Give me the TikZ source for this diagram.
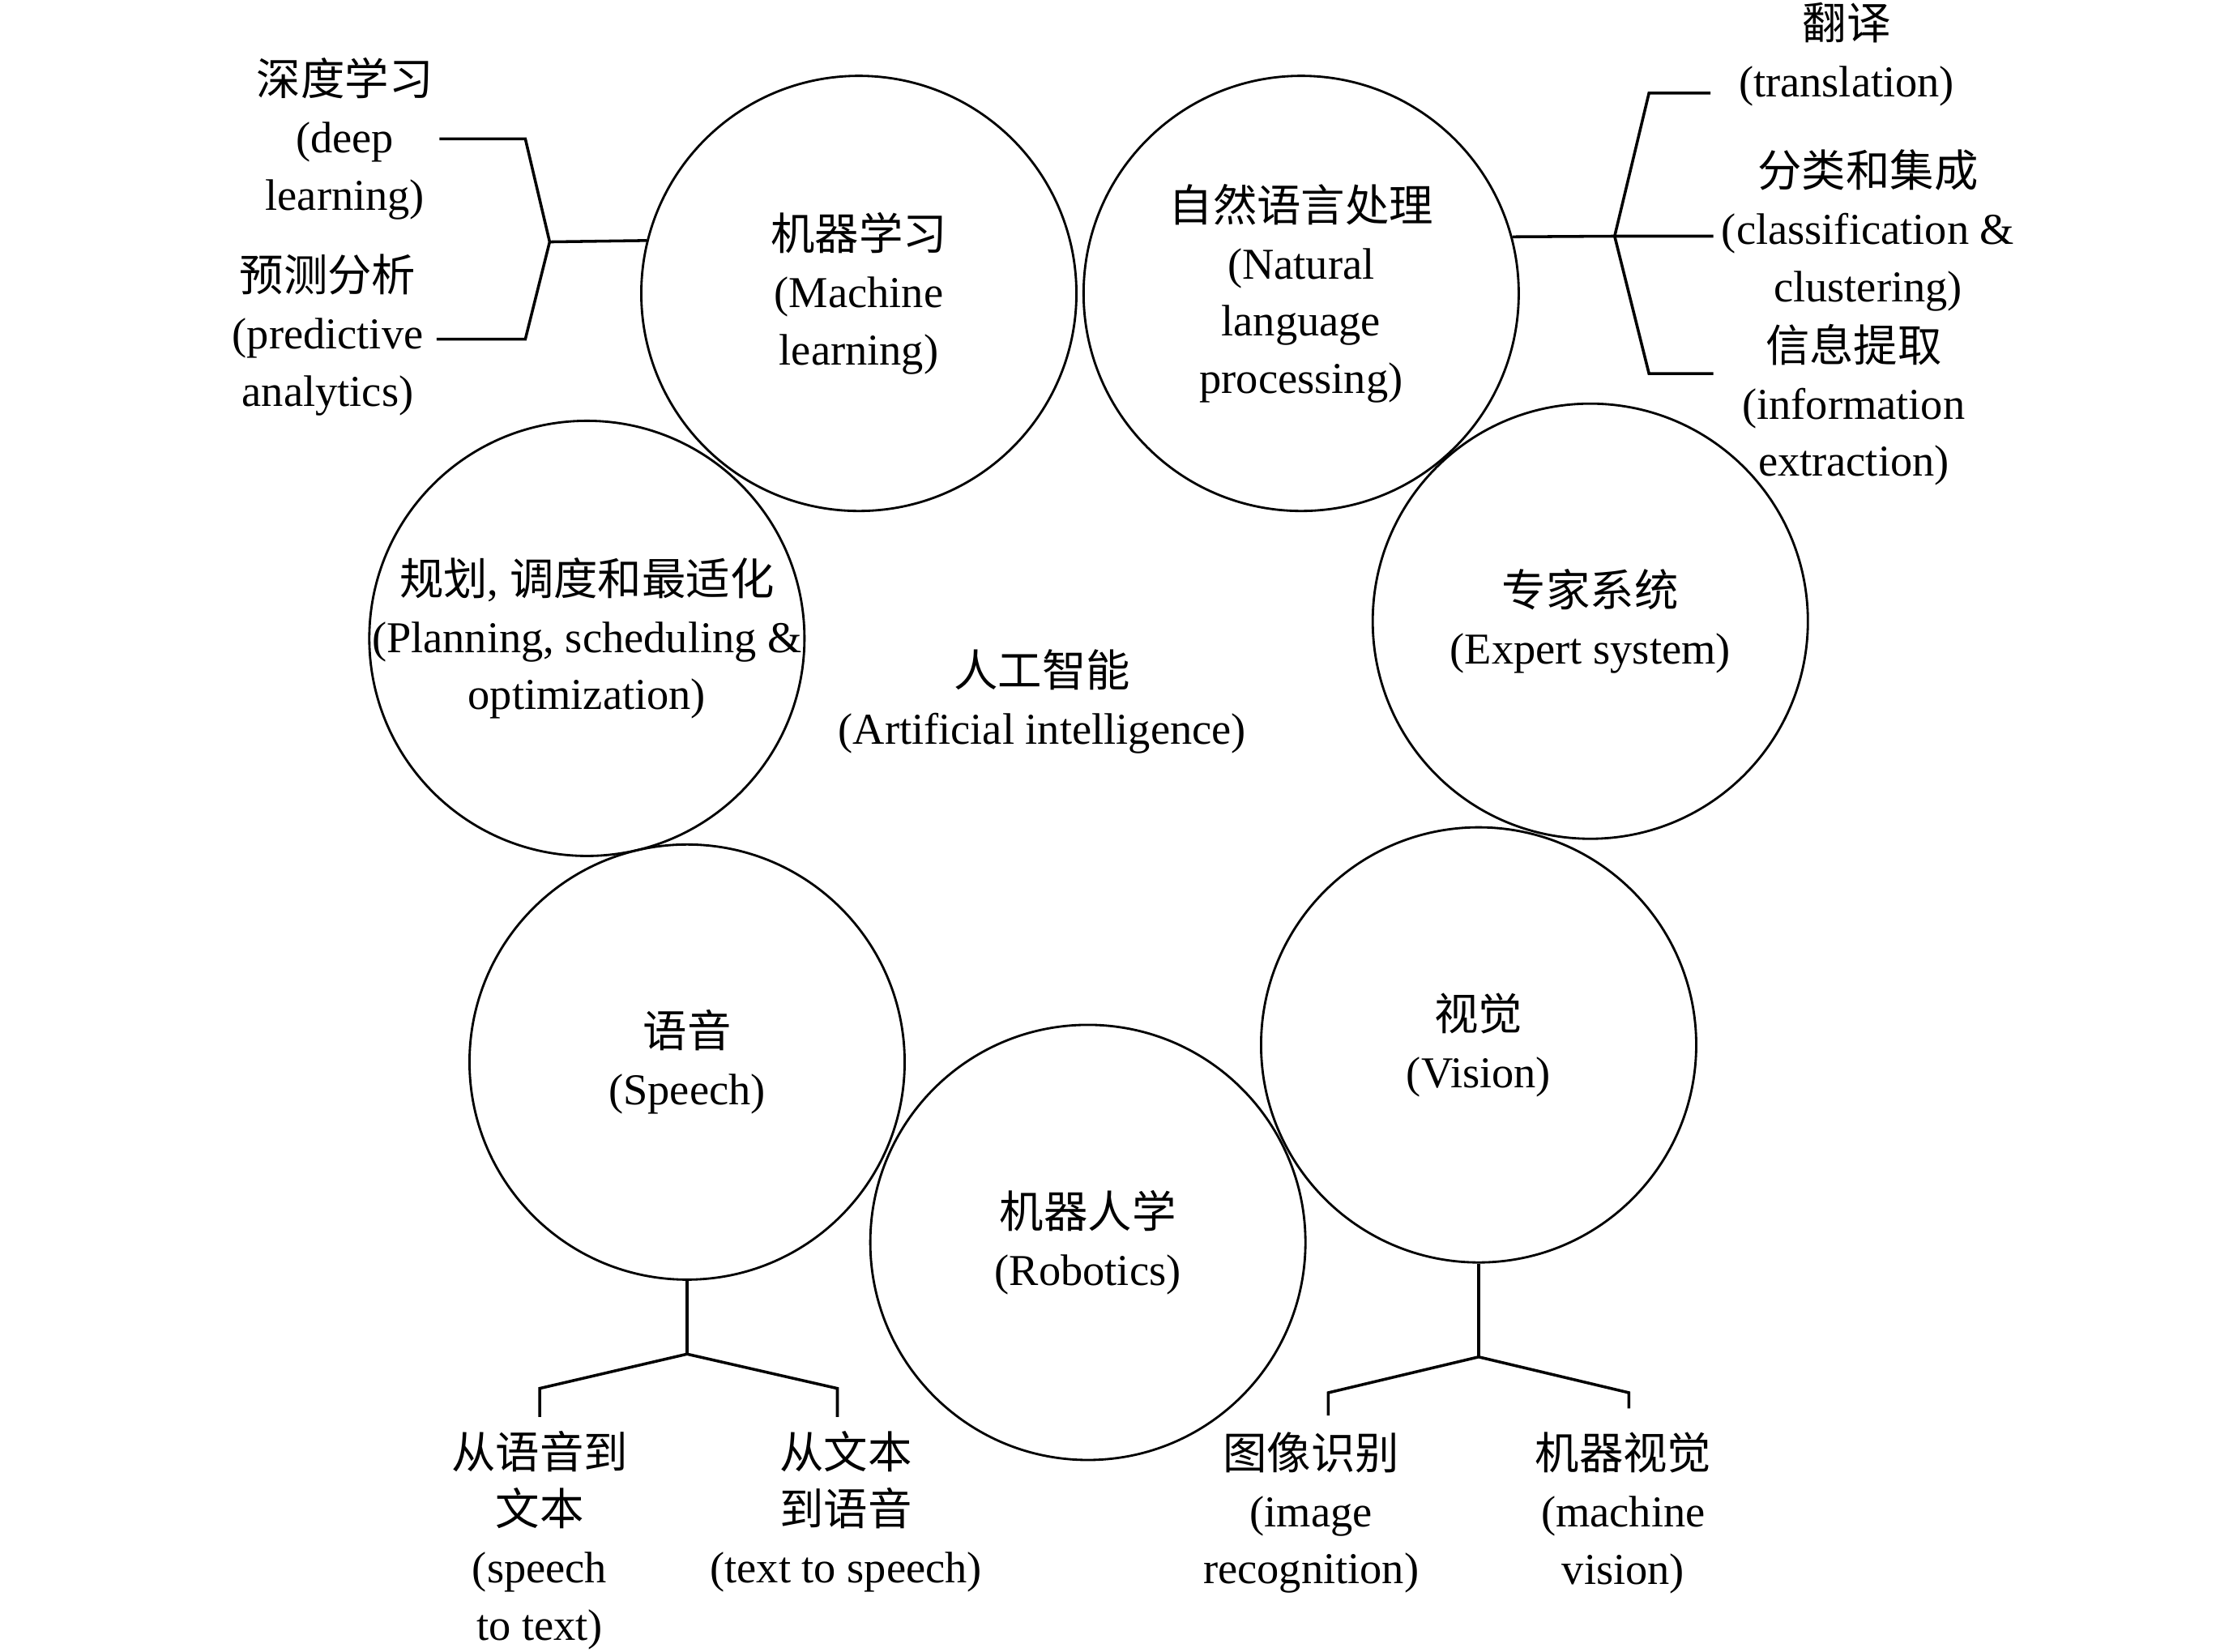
\documentclass[tikz,border=0pt]{standalone}
\usepackage{fontspec}
\setmainfont{Liberation Serif}
\newfontfamily\cjk{Noto Sans CJK SC}
\newcommand\zh[1]{{\cjk #1}}
\begin{document}
\begin{tikzpicture}[x=0.5pt,y=-0.5pt,
  circ/.style={circle,draw,line width=0.8pt,minimum size=152pt,inner sep=0pt},
  lbl/.style={align=center,inner sep=0pt,font=\fontsize{15.4}{20}\selectfont},
  link/.style={line width=1pt,line join=miter}]
\useasboundingbox (0,0) rectangle (1560,1154);
% circles
\node[circ] (ml)   at (600,205)  {};
\node[circ] (nlp)  at (909,205)  {};
\node[circ] (plan) at (410,446)  {};
\node[circ] (exp)  at (1111,434) {};
\node[circ] (spe)  at (480,742)  {};
\node[circ] (vis)  at (1033,730) {};
\node[circ] (rob)  at (760,868)  {};
% circle texts
\node[lbl] (mlt)   at (ml)   {\zh{机器学习}\\(Machine\\learning)};
\node[lbl] (nlpt)  at (nlp)  {\zh{自然语言处理}\\(Natural\\language\\processing)};
\node[lbl] (plant) at (plan) {\zh{规划}, \zh{调度和最适化}\\(Planning, scheduling \&\\optimization)};
\node[lbl] (expt)  at (exp)  {\zh{专家系统}\\(Expert system)};
\node[lbl] (spet)  at (spe)  {\zh{语音}\\(Speech)};
\node[lbl] (vist)  at (vis)  {\zh{视觉}\\(Vision)};
\node[lbl] (robt)  at (rob)  {\zh{机器人学}\\(Robotics)};
\node[lbl] (ai)    at (728,490) {\zh{人工智能}\\(Artificial intelligence)};
% outer labels
\node[lbl] (dl)  at (241,97)   {\zh{深度学习}\\(deep\\learning)};
\node[lbl] (pa)  at (229,234)  {\zh{预测分析}\\(predictive\\analytics)};
\node[lbl] (tr)  at (1290,38)  {\zh{翻译}\\(translation)};
\node[lbl] (cc)  at (1305,161) {\zh{分类和集成}\\(classification \&\\clustering)};
\node[lbl] (ie)  at (1295,283) {\zh{信息提取}\\(information\\extraction)};
\node[lbl] (stt) at (377,1076) {\zh{从语音到}\\\zh{文本}\\(speech\\to text)};
\node[lbl] (tts) at (591,1056) {\zh{从文本}\\\zh{到语音}\\(text to speech)};
\node[lbl] (ir)  at (916,1057) {\zh{图像识别}\\(image\\recognition)};
\node[lbl] (mv)  at (1134,1057) {\zh{机器视觉}\\(machine\\vision)};
% machine learning branches
\coordinate (j1)  at (384,169);
\coordinate (dlb) at (367,97);
\coordinate (dle) at (307,97);
\coordinate (pab) at (367,237);
\coordinate (pae) at (305,237);
\draw[link] (dle) -- (dlb) -- (j1) -- (pab) -- (pae);
\draw[link] (j1) -- (ml.166.3);
% NLP branches
\coordinate (j2)  at (1128,165);
\coordinate (trb) at (1152,65);
\coordinate (tre) at (1195,65);
\coordinate (cce) at (1197,165);
\coordinate (ieb) at (1152,261);
\coordinate (iee) at (1197,261);
\draw[link] (tre) -- (trb) -- (j2) -- (ieb) -- (iee);
\draw[link] (nlp.15.3) -- (j2) -- (cce);
% speech branches
\coordinate (j3)  at (480,946);
\coordinate (s1b) at (377,970);
\coordinate (s1e) at (377,990);
\coordinate (s2b) at (585,970);
\coordinate (s2e) at (585,990);
\draw[link] (spe.south) -- (j3);
\draw[link] (s1e) -- (s1b) -- (j3) -- (s2b) -- (s2e);
% vision branches
\coordinate (j4)  at (1033,948);
\coordinate (v1b) at (928,973);
\coordinate (v1e) at (928,989);
\coordinate (v2b) at (1138,973);
\coordinate (v2e) at (1138,984);
\draw[link] (vis.south) -- (j4);
\draw[link] (v1e) -- (v1b) -- (j4) -- (v2b) -- (v2e);
\end{tikzpicture}
\end{document}
